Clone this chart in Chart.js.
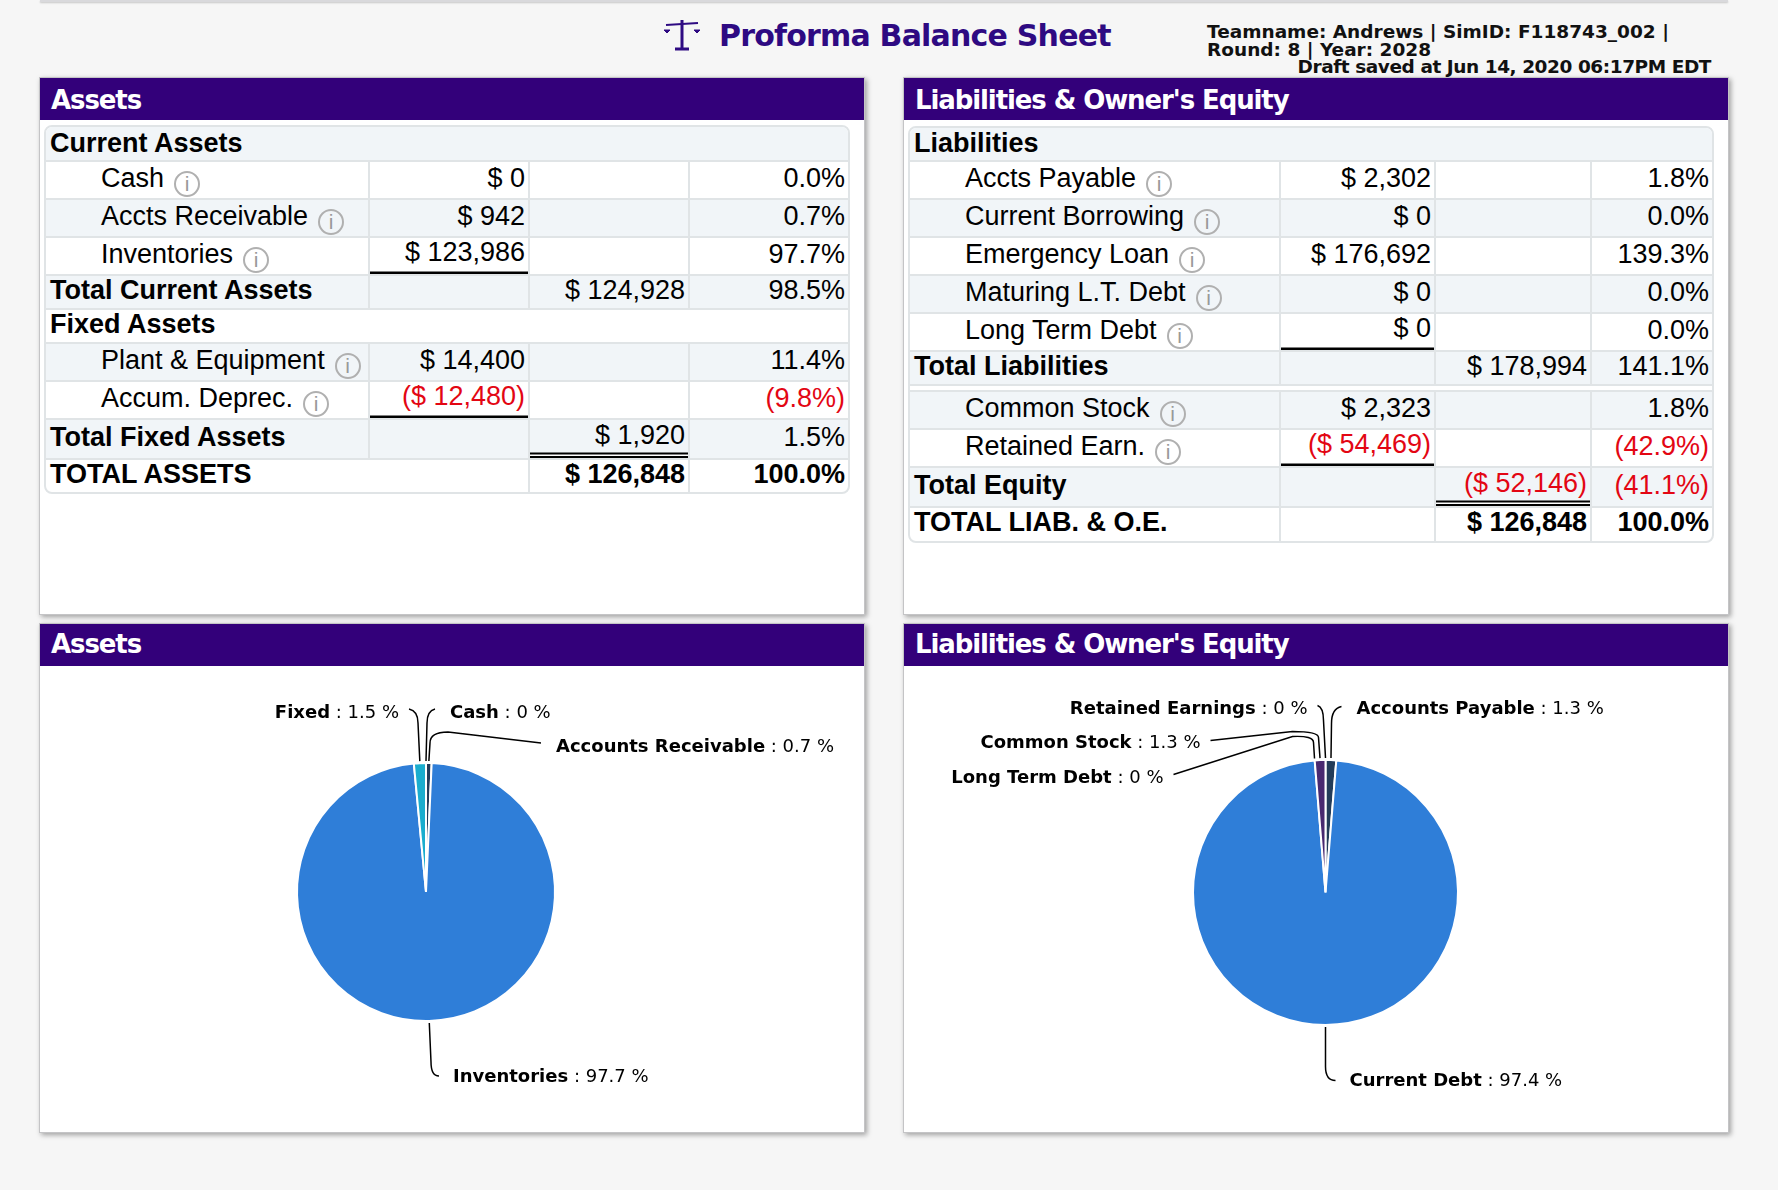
<!DOCTYPE html>
<html>
<head>
<meta charset="utf-8">
<title>Proforma Balance Sheet</title>
<script src="https://cdn.jsdelivr.net/npm/chart.js@4/dist/chart.umd.js"></script>
<style>
  html, body { margin: 0; padding: 0; width: 1778px; height: 1190px; overflow: hidden; background: #f6f6f6; }
  .abs { position: absolute; }
  #topstrip { left: 40px; top: 0; width: 1688px; height: 2px; background: #d9d9dc; box-shadow: 0 1px 2px rgba(0,0,0,.2); }
  #title { left: 719px; top: 18px; font: bold 30px "DejaVu Sans"; letter-spacing: -.8px; color: #2e0a82; white-space: nowrap; }
  #icon { left: 663px; top: 19px; }
  .info { font: bold 18.5px/17.6px "DejaVu Sans"; color: #111; white-space: nowrap; }
  .panel { background: #fff; border: 1px solid #c4c4c6; box-sizing: border-box; box-shadow: 2px 2px 5px rgba(0,0,0,.35); }
  .bar { position: absolute; left: 0; right: 0; top: 0; height: 42px; background: #33007a; color: #fff;
         font: bold 26px/44px "DejaVu Sans"; padding-left: 11px; letter-spacing: -1.1px; }
  .low .bar { line-height: 41px; }
  .wrap { position: absolute; border: 2px solid #e0e4e6; border-radius: 8px; overflow: hidden; box-sizing: border-box; }
  table { border-collapse: separate; border-spacing: 0; table-layout: fixed; width: 100%;
          font: 27px/27px "Liberation Sans"; color: #000; }
  td { box-sizing: border-box; padding: 0 3px 4px 0; border-right: 2px solid #e0e4e6; border-bottom: 2px solid #e0e4e6;
       text-align: right; white-space: nowrap; overflow: visible; }
  td:last-child { border-right: 0; padding-right: 3px; }
  tr:first-child td { padding-bottom: 1px; }
  tr:last-child td { border-bottom: 0; }
  tr:nth-child(odd) td { background: #f1f5f8; }
  td.lab { text-align: left; padding-left: 4px; font-weight: bold; }
  td.ind { text-align: left; padding-left: 55px; }
  .b td { font-weight: bold; }
  td.neg { color: #e30613; }
  td.und { box-shadow: inset 0 -2.5px 0 #000; padding-bottom: 7px; }
  td.dbl { box-shadow: inset 0 -2px 0 #000, inset 0 -3.5px 0 #fff, inset 0 -5.5px 0 #000; padding-bottom: 8px; }
  .i { display: inline-block; width: 22px; height: 22px; border: 2.5px solid #b0b0b0; border-radius: 50%; margin: -8px 0 -8px 10px;
       font: 21px/22px "Liberation Sans"; color: #999; text-align: center; vertical-align: -4px; }
  canvas { position: absolute; }
</style>
</head>
<body>
<div id="topstrip" class="abs"></div>
<svg id="icon" class="abs" width="38" height="32" viewBox="0 0 38 32">
  <g stroke="#2e0a82" fill="#2e0a82">
    <path d="M3 6 L35 4" stroke-width="2" />
    <path d="M19 1 L19 29" stroke-width="3" />
    <path d="M12 30 L26 30" stroke-width="3" />
    <path d="M1 11 L7 11 L4 14 Z M31 11 L37 11 L34 14 Z" stroke-width="1" />
  </g>
</svg>
<div id="title" class="abs">Proforma Balance Sheet</div>
<div class="abs info" style="left:1207px;top:23px">Teamname: Andrews | SimID: F118743_002 |<br>Round: 8 | Year: 2028</div>
<div class="abs info" style="right:67px;top:58px;letter-spacing:-.44px">Draft saved at Jun 14, 2020 06:17PM EDT</div>

<div class="abs panel" style="left:39px;top:77px;width:826px;height:538px"><div class="bar">Assets</div></div>
<div class="abs panel" style="left:903px;top:77px;width:826px;height:538px"><div class="bar">Liabilities &amp; Owner's Equity</div></div>
<div class="abs panel low" style="left:39px;top:623px;width:826px;height:510px"><div class="bar">Assets</div></div>
<div class="abs panel low" style="left:903px;top:623px;width:826px;height:510px"><div class="bar">Liabilities &amp; Owner's Equity</div></div>

<div class="wrap" id="assetTable" style="left:44px;top:125px;width:806px"></div>
<div class="wrap" id="liabTable" style="left:908px;top:126px;width:806px"></div>

<canvas id="assetPie" width="824" height="466" style="left:40px;top:666px"></canvas>
<canvas id="liabPie" width="824" height="466" style="left:904px;top:666px"></canvas>

<script>
// table rows: type, label, item value, total value, percent
const assetRows = [
  ['head', 'Current Assets'],
  ['item', 'Cash', '$ 0', '', '0.0%'],
  ['item', 'Accts Receivable', '$ 942', '', '0.7%'],
  ['itemUnder', 'Inventories', '$ 123,986', '', '97.7%'],
  ['total', 'Total Current Assets', '', '$ 124,928', '98.5%'],
  ['head', 'Fixed Assets'],
  ['item', 'Plant & Equipment', '$ 14,400', '', '11.4%'],
  ['itemUnder', 'Accum. Deprec.', '($ 12,480)', '', '(9.8%)'],
  ['totalDouble', 'Total Fixed Assets', '', '$ 1,920', '1.5%'],
  ['grandSpan', 'TOTAL ASSETS', '', '$ 126,848', '100.0%']
];
const liabRows = [
  ['head', 'Liabilities'],
  ['item', 'Accts Payable', '$ 2,302', '', '1.8%'],
  ['item', 'Current Borrowing', '$ 0', '', '0.0%'],
  ['item', 'Emergency Loan', '$ 176,692', '', '139.3%'],
  ['item', 'Maturing L.T. Debt', '$ 0', '', '0.0%'],
  ['itemUnder', 'Long Term Debt', '$ 0', '', '0.0%'],
  ['total', 'Total Liabilities', '', '$ 178,994', '141.1%'],
  ['gap'],
  ['item', 'Common Stock', '$ 2,323', '', '1.8%'],
  ['itemUnder', 'Retained Earn.', '($ 54,469)', '', '(42.9%)'],
  ['totalDouble', 'Total Equity', '', '($ 52,146)', '(41.1%)'],
  ['grand', 'TOTAL LIAB. & O.E.', '', '$ 126,848', '100.0%']
];

// pies
const assetNames = ['Cash', 'Accounts Receivable', 'Inventories', 'Fixed'];
const assetValues = [0, 0.7, 97.7, 1.5];
const assetColors = ['#8bbc21', '#233c59', '#2f7ed8', '#1aadce'];

const liabNames = ['Accounts Payable', 'Current Debt', 'Long Term Debt', 'Common Stock', 'Retained Earnings'];
const liabValues = [1.3, 97.4, 0, 1.3, 0];
const liabColors = ['#233c59', '#2f7ed8', '#8bbc21', '#492970', '#910000'];

const assetRowHeights = [35, 38, 38, 38, 34, 34, 38, 38, 40, 32];
const liabRowHeights = [34, 38, 38, 38, 38, 38, 34, 6, 38, 38, 40, 33];

const cell = (text, cls, span) => {
  let neg = text && text[0] === '(' ? ' neg' : '';
  return '<td class="' + (cls || '') + neg + '"' + (span ? ' colspan="' + span + '"' : '') + '>' + text.replace('&', '&amp;') + '</td>';
};

const buildTable = (id, rows, heights, colWidths) => {
  let html = '<table><colgroup>' + colWidths.map(w => '<col style="width:' + w + 'px">').join('') + '</colgroup>';
  rows.forEach((r, i) => {
    let t = r[0];
    let isGrand = t === 'grand' || t === 'grandSpan';
    html += '<tr style="height:' + heights[i] + 'px"' + (isGrand ? ' class="b"' : '') + '>';
    if (t === 'head') {
      html += cell(r[1], 'lab', 4);
    } else if (t === 'gap') {
      html += '<td colspan="4" style="padding:0;font-size:1px;line-height:1px"></td>';
    } else if (t === 'item' || t === 'itemUnder') {
      html += '<td class="ind">' + r[1].replace('&', '&amp;') + '<span class="i">i</span></td>';
      html += cell(r[2], t === 'itemUnder' ? 'und' : '') + cell(r[3]) + cell(r[4]);
    } else if (t === 'grandSpan') {
      html += cell(r[1], 'lab', 2) + cell(r[3]) + cell(r[4]);
    } else {
      html += cell(r[1], 'lab') + cell(r[2]) + cell(r[3], t === 'totalDouble' ? 'dbl' : '') + cell(r[4]);
    }
    html += '</tr>';
  });
  document.getElementById(id).innerHTML = html + '</table>';
};

buildTable('assetTable', assetRows, assetRowHeights, [324, 160, 160, 158]);
buildTable('liabTable', liabRows, liabRowHeights, [371, 155, 156, 120]);

// leader paths, relative to the pie centre. L = line to, Q = quadratic curve to
const assetLeaders = {
  'Cash': { path: [['L', 1, -169], ['Q', 1, -181, 9, -183]], text: [24, -179, 'left'] },
  'Accounts Receivable': { path: [['L', 4, -149], ['Q', 4, -160, 22, -160], ['L', 115, -149]], text: [130, -145, 'left'] },
  'Inventories': { path: [['L', 5, 170], ['Q', 5, 184, 13, 184]], text: [27, 185, 'left'] },
  'Fixed': { path: [['L', -8, -169], ['Q', -8, -181, -17, -183]], text: [-27, -179, 'right'] }
};
const liabLeaders = {
  'Accounts Payable': { path: [['L', 6, -169], ['Q', 6, -184, 16, -186]], text: [31, -183, 'left'] },
  'Current Debt': { path: [['L', 0, 174], ['Q', 0, 188, 10, 188]], text: [24, 189, 'left'] },
  'Long Term Debt': { path: [['L', -12, -150], ['Q', -12, -157, -33, -156], ['L', -152, -118]], text: [-162, -114, 'right'] },
  'Common Stock': { path: [['L', -7, -155], ['Q', -7, -161, -33, -161], ['L', -115, -152]], text: [-125, -149, 'right'] },
  'Retained Earnings': { path: [['L', -2, -172], ['Q', -2, -185, -8, -187]], text: [-18, -183, 'right'] }
};

const drawLabels = {
  id: 'drawLabels',
  afterDraw(chart, args, opts) {
    let ctx = chart.ctx;
    let names = chart.data.labels;
    let values = chart.data.datasets[0].data;
    chart.getDatasetMeta(0).data.forEach((arc, i) => {
      let l = opts.leaders[names[i]];
      let mid = (arc.startAngle + arc.endAngle) / 2;
      let cx = arc.x, cy = arc.y;
      ctx.save();
      ctx.strokeStyle = '#000';
      ctx.lineWidth = 1.5;
      ctx.beginPath();
      ctx.moveTo(cx + Math.cos(mid) * (arc.outerRadius + 2), cy + Math.sin(mid) * (arc.outerRadius + 2));
      l.path.forEach(p => {
        if (p[0] === 'L') ctx.lineTo(cx + p[1], cy + p[2]);
        else ctx.quadraticCurveTo(cx + p[1], cy + p[2], cx + p[3], cy + p[4]);
      });
      ctx.stroke();

      let bold = names[i];
      let rest = ' : ' + values[i] + ' %';
      let x = cx + l.text[0], y = cy + l.text[1];
      ctx.textBaseline = 'middle';
      ctx.fillStyle = '#000';
      ctx.textAlign = 'left';
      ctx.font = 'bold 18px "DejaVu Sans"';
      let w1 = ctx.measureText(bold).width;
      ctx.font = '18px "DejaVu Sans"';
      let w2 = ctx.measureText(rest).width;
      if (l.text[2] === 'right') x -= w1 + w2;
      ctx.font = 'bold 18px "DejaVu Sans"';
      ctx.fillText(bold, x, y);
      ctx.font = '18px "DejaVu Sans"';
      ctx.fillText(rest, x + w1, y);
      ctx.restore();
    });
  }
};

const newPie = (id, names, values, colors, leaders, padding) => {
  return new Chart(document.getElementById(id).getContext('2d'), {
    type: 'pie',
    data: {
      labels: names,
      datasets: [{ data: values, backgroundColor: colors, borderColor: '#fff', borderWidth: 2 }]
    },
    options: {
      responsive: false,
      animation: false,
      layout: { padding: padding },
      plugins: {
        legend: { display: false },
        tooltip: { enabled: false },
        drawLabels: { leaders: leaders }
      }
    },
    plugins: [drawLabels]
  });
};

newPie('assetPie', assetNames, assetValues, assetColors, assetLeaders, { left: 256, right: 308, top: 96, bottom: 110 });
newPie('liabPie', liabNames, liabValues, liabColors, liabLeaders, { left: 288, right: 269, top: 93, bottom: 106 });
</script>
</body>
</html>
